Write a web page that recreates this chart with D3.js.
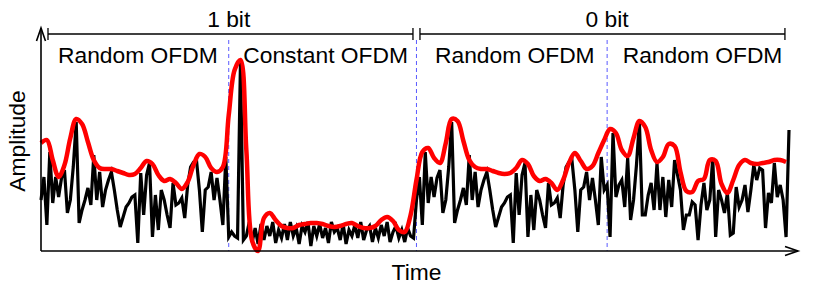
<!DOCTYPE html>
<html>
<head>
<meta charset="utf-8">
<script src="https://cdn.jsdelivr.net/npm/d3@7/dist/d3.min.js"></script>
<style>
  body { margin: 0; background: #fff; }
  text { font-family: "Liberation Sans", Arial, sans-serif; font-size: 22.8px; fill: #000; }
</style>
</head>
<body>
<svg id="chart" width="830" height="291"></svg>
<script>
// symbol labels and where each symbol starts (sample index)
const segments = ["Random OFDM", "Constant OFDM", "Random OFDM", "Random OFDM"];
const segmentStarts = [0, 64, 128, 193];
const segmentEnds = [64, 128, 193, 256];

// bit brackets (sample range + label position)
const bitLabels = ["1 bit", "0 bit"];
const bitFrom = [0, 128];
const bitTo = [128, 256];
const bitMid = [64, 193];

// sampled amplitude of the first random symbol (repeated as the third one)
const randomSymbol = [51, 74, 26, 99, 48, 74, 54, 73, 81, 38, 51, 84, 129, 28, 41, 51,
  63, 46, 96, 51, 79, 44, 61, 71, 79, 61, 41, 24, 34, 44, 48, 54,
  56, 8, 78, 36, 76, 88, 14, 56, 21, 61, 51, 36, 23, 68, 46, 48,
  53, 33, 66, 84, 89, 91, 61, 19, 61, 64, 79, 51, 73, 51, 26, 94];

const constantSymbol = [14, 19, 15, 13, 189, 11, 15, 29, 9, 23, 7, 27, 11, 25, 15, 29,
  8, 21, 13, 27, 11, 29, 15, 23, 7, 25, 19, 29, 5, 25, 15, 27,
  13, 23, 8, 29, 19, 23, 11, 27, 7, 21, 15, 26, 13, 29, 11, 21,
  25, 9, 23, 13, 26, 15, 29, 9, 19, 25, 13, 21, 9, 23, 15, 13];

const lastSymbol = [61, 66, 14, 118, 54, 66, 71, 44, 93, 31, 51, 86, 129, 36, 36, 56,
  68, 41, 88, 41, 74, 34, 71, 44, 91, 76, 61, 21, 36, 36, 49, 46,
  11, 46, 68, 41, 51, 93, 14, 61, 51, 38, 58, 16, 18, 64, 44, 51,
  66, 39, 61, 86, 71, 83, 81, 23, 58, 48, 88, 54, 66, 51, 14, 121];

// smoothed envelope, one value every 2 samples
const envelope = [108, 111, 91, 74, 86, 113, 132, 127, 109, 91,
  83, 82, 82, 80, 78, 76, 77, 83, 90, 87,
  76, 70, 72, 68, 62, 69, 86, 97, 94, 83,
  79, 84, 136, 181, 191, 101, 10, 0, 33, 38,
  31, 25, 23, 23, 26, 27, 28, 28, 27, 25,
  24, 25, 27, 28, 25, 23, 23, 25, 31, 34,
  30, 21, 19, 36, 71, 99, 103, 93, 88, 108,
  132, 130, 110, 91, 84, 82, 82, 80, 78, 77,
  78, 83, 91, 87, 75, 70, 72, 68, 61, 71,
  88, 98, 90, 82, 85, 98, 111, 122, 118, 101,
  95, 113, 130, 124, 101, 89, 94, 107, 105, 79,
  60, 59, 70, 72, 91, 90, 67, 58, 71, 86,
  91, 88, 87, 88, 89, 91, 91, 89];

const signal = randomSymbol.concat(constantSymbol, randomSymbol, lastSymbol);

const svg = d3.select("#chart");

const x = d3.scaleLinear().domain([0, 255]).range([41, 789]);
const y = d3.scaleLinear().domain([0, 220]).range([251, 31]);

// segment separators
svg.selectAll(".sep")
  .data(segmentStarts.slice(1))
  .enter()
  .append("line")
  .attr("x1", d => x(d)).attr("x2", d => x(d))
  .attr("y1", 40).attr("y2", y(0))
  .attr("stroke", "#5a5aff")
  .attr("stroke-width", 1)
  .attr("stroke-dasharray", "4,3");

// signal
svg.append("path")
  .datum(signal)
  .attr("fill", "none")
  .attr("stroke", "#000")
  .attr("stroke-width", 3.2)
  .attr("stroke-linejoin", "miter")
  .attr("d", d3.line().x((d, i) => x(i)).y(d => y(d)));

// envelope
svg.append("path")
  .datum(envelope)
  .attr("fill", "none")
  .attr("stroke", "#ff0000")
  .attr("stroke-width", 4.5)
  .attr("stroke-linejoin", "round")
  .attr("d", d3.line().x((d, i) => x(i * 2)).y(d => y(d)).curve(d3.curveCatmullRom));

// axes with open arrow heads
const axisG = svg.append("g").attr("stroke", "#000").attr("stroke-width", 1.6).attr("fill", "none");
axisG.append("path").attr("d", `M41,${y(0)}H798`);
axisG.append("path").attr("d", `M785,${y(0) - 4.5}L798,${y(0)}L785,${y(0) + 4.5}`);
axisG.append("path").attr("d", `M41,${y(0)}V28`);
axisG.append("path").attr("d", `M36.5,41L41,28L45.5,41`);

// bit brackets
const bracketY = 34;
bitLabels.forEach((label, i) => {
  const x0 = x(bitFrom[i]) + (i === 0 ? 7 : 3.5);
  const x1 = x(bitTo[i]) - (i === 0 ? 3.5 : 7);
  const g = svg.append("g").attr("stroke", "#000").attr("stroke-width", 1.3);
  g.append("line").attr("x1", x0).attr("x2", x1).attr("y1", bracketY).attr("y2", bracketY);
  g.append("line").attr("x1", x0).attr("x2", x0).attr("y1", bracketY - 6).attr("y2", bracketY + 6);
  g.append("line").attr("x1", x1).attr("x2", x1).attr("y1", bracketY - 6).attr("y2", bracketY + 6);
  svg.append("text")
    .attr("x", x(bitMid[i]))
    .attr("y", 27)
    .attr("text-anchor", "middle")
    .text(label);
});

// symbol labels
svg.selectAll(".seg")
  .data(segments)
  .enter()
  .append("text")
  .attr("x", (d, i) => x((segmentStarts[i] + segmentEnds[i]) / 2) + 3)
  .attr("y", 63)
  .attr("text-anchor", "middle")
  .text(d => d);

// axis titles
svg.append("text")
  .attr("x", x(128))
  .attr("y", 280)
  .attr("text-anchor", "middle")
  .text("Time");

svg.append("text")
  .attr("transform", "translate(25,141) rotate(-90)")
  .attr("text-anchor", "middle")
  .text("Amplitude");
</script>
</body>
</html>
